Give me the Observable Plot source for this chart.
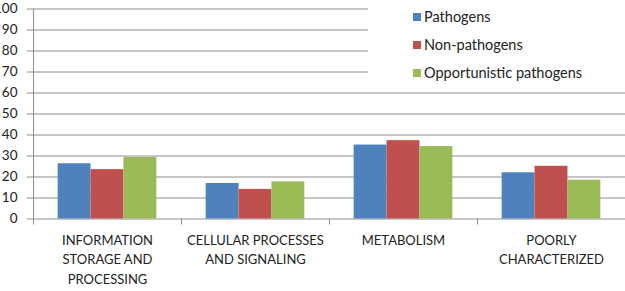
<!DOCTYPE html>
<html>
<head>
<meta charset="utf-8">
<script src="https://cdn.jsdelivr.net/npm/d3@7"></script>
<script src="https://cdn.jsdelivr.net/npm/@observablehq/plot@0.6"></script>
<style>
  html, body { margin: 0; padding: 0; background: #fff; overflow: hidden; }
  #wrap { position: relative; width: 625px; height: 291px; font-family: Lato, "Open Sans", sans-serif; }
  #legend { position: absolute; left: 368px; top: 0; width: 257px; height: 82px; background: #fff;
            padding-top: 3px; box-sizing: border-box; }
  .item { height: 28px; line-height: 28px; font-size: 14.5px; color: #222; padding-left: 45px; white-space: nowrap; }
  .sw { display: inline-block; width: 8px; height: 8px; margin-right: 3px; vertical-align: middle; position: relative; top: -1px; }
</style>
</head>
<body>
<div id="wrap"><div id="chart"></div><div id="legend"></div></div>
<script>
const categories = ["INFORMATION STORAGE AND PROCESSING", "CELLULAR PROCESSES AND SIGNALING", "METABOLISM", "POORLY CHARACTERIZED"];
const tickLabels = ["INFORMATION\nSTORAGE AND\nPROCESSING", "CELLULAR PROCESSES\nAND SIGNALING", "METABOLISM", "POORLY\nCHARACTERIZED"];
const series = ["Pathogens", "Non-pathogens", "Opportunistic pathogens"];
const colors = ["#4F81BD", "#C0504D", "#9BBB59"];
const pathogens = [26.3, 16.9, 35.2, 22.0];
const nonPathogens = [23.5, 14.1, 37.3, 25.1];
const opportunistic = [29.3, 17.7, 34.5, 18.5];
const yTicks = [0, 10, 20, 30, 40, 50, 60, 70, 80, 90, 100];

const seriesValues = [pathogens, nonPathogens, opportunistic];
const data = [];
categories.forEach((c, ci) => series.forEach((s, si) => data.push({category: c, series: s, si, value: seriesValues[si][ci]})));

const grid = "#8e8e8e";
const chart = Plot.plot({
  width: 625,
  height: 291,
  marginLeft: 32,
  marginRight: 0,
  marginTop: 8.5,
  marginBottom: 72.5,
  style: {fontFamily: "Lato, 'Open Sans', sans-serif", fontSize: "13px", color: "#222", background: "#fff"},
  fx: {domain: categories, padding: 0, label: null},
  x: {domain: [0, 4.5], axis: null},
  y: {domain: [0, 100], label: null},
  color: {domain: series, range: colors},
  marks: [
    Plot.gridY(yTicks, {stroke: grid, strokeOpacity: 1}),
    Plot.axisY(yTicks, {tickSize: 6, tickPadding: 10, stroke: grid, strokeOpacity: 1, fill: "#222", fontSize: 13.5, label: null}),
    Plot.rectY(data, {fx: "category", x1: d => d.si + 0.75, x2: d => d.si + 1.75, y1: 0, y2: "value", fill: "series"}),
    Plot.ruleX([categories[0]], {fx: d => d, x: 0, y1: 0, y2: 100, stroke: grid}),
    Plot.ruleX(categories, {fx: d => d, x: 0, y1: 0, y2: 0, insetBottom: -6, stroke: grid}),
    Plot.axisFx({anchor: "bottom", tickSize: 0, tickPadding: 12, lineHeight: 1.5, fontSize: 13, fill: "#222",
      tickFormat: d => tickLabels[categories.indexOf(d)], label: null})
  ]
});
document.getElementById("chart").appendChild(chart);

const legend = document.getElementById("legend");
series.forEach((s, i) => {
  const row = document.createElement("div");
  row.className = "item";
  const sw = document.createElement("span");
  sw.className = "sw";
  sw.style.background = colors[i];
  row.appendChild(sw);
  row.appendChild(document.createTextNode(s));
  legend.appendChild(row);
});
</script>
</body>
</html>
